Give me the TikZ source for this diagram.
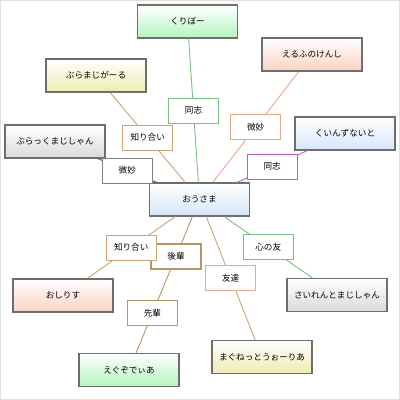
\documentclass[tikz,border=0pt]{standalone}
\usepackage{fontspec}
\newfontfamily\jp{Noto Sans CJK JP}
\definecolor{boxgray}{HTML}{6E6E6E}
\definecolor{fblue}{HTML}{D6E6FA}
\definecolor{fgreen}{HTML}{B4F4C0}
\definecolor{fyellow}{HTML}{EEEBB2}
\definecolor{fgray}{HTML}{DADADA}
\definecolor{fpeach}{HTML}{FAD2C2}
\definecolor{lgreen}{HTML}{78C080}
\definecolor{ltan}{HTML}{C8A478}
\definecolor{ldark}{HTML}{606060}
\definecolor{lgrayb}{HTML}{808080}
\definecolor{lorange}{HTML}{E8A888}
\definecolor{lmag}{HTML}{C060C0}
\definecolor{lbrown}{HTML}{B89468}
\definecolor{frame}{HTML}{E0E0E0}
\tikzset{
  txt/.style={font=\jp\fontsize{8.6}{10}\selectfont, text=black},
  mainbox/.style={txt, draw=boxgray, line width=1.1pt, minimum width=100pt, minimum height=33pt, inner sep=0pt, top color=white},
  lab/.style={txt, fill=white, line width=1pt, minimum width=50pt, minimum height=25pt, inner sep=0pt},
  edge/.style={line width=0.9pt},
}
\begin{document}
\begin{tikzpicture}[x=1pt,y=-1pt]
\useasboundingbox (0,0) rectangle (400,400);
\draw[frame, line width=1pt] (0.5,0.5) rectangle (399.5,399.5);

\node[mainbox, bottom color=fblue] (oosama) at (199.5,199.5) {おうさま};
\node[mainbox, bottom color=fgreen] (kuribo) at (187.5,21.5) {くりぼー};
\node[mainbox, bottom color=fyellow] (buramaji) at (96,75.5) {ぶらまじがーる};
\node[mainbox, bottom color=fgray] (black) at (55,141.5) {ぶらっくまじしゃん};
\node[mainbox, bottom color=fpeach] (elf) at (312,54.5) {えるふのけんし};
\node[mainbox, bottom color=fblue] (queens) at (345,133.5) {くいんずないと};
\node[mainbox, bottom color=fpeach] (osiris) at (63,295.5) {おしりす};
\node[mainbox, bottom color=fgreen] (exodia) at (129,370) {えぐぞでぃあ};
\node[mainbox, bottom color=fgray] (silent) at (337,295) {さいれんとまじしゃん};
\node[mainbox, bottom color=fyellow] (magnet) at (262,357) {まぐねっとうぉーりあ};

\draw[edge, lgreen] (kuribo) -- node[lab, draw=lgreen] (l1) {同志} (oosama);
\draw[edge, ltan] (buramaji) -- node[lab, draw=ltan] (l2) {知り合い} (oosama);
\draw[edge, ldark] (black) -- node[lab, draw=lgrayb] (l3) {微妙} (oosama);
\draw[edge, lorange] (elf) -- node[lab, draw=lorange] (l4) {微妙} (oosama);
\draw[edge, lmag] (queens) -- node[lab, draw=lmag] (l5) {同志} (oosama);
\draw[edge, lbrown] (oosama) -- node[pos=0.29, lab, draw=lbrown, line width=1.8pt] (l6) {後輩} node[pos=0.71, lab, draw=lbrown, line width=1.2pt] (l7) {先輩} (exodia);
\draw[edge, ltan] (oosama) -- node[lab, draw=ltan] (l8) {知り合い} (osiris);
\draw[edge, ltan] (oosama) -- node[lab, draw=lorange] (l9) {友達} (magnet);
\draw[edge, lgreen] (oosama) -- node[lab, draw=lgreen] (l10) {心の友} (silent);
\end{tikzpicture}
\end{document}
